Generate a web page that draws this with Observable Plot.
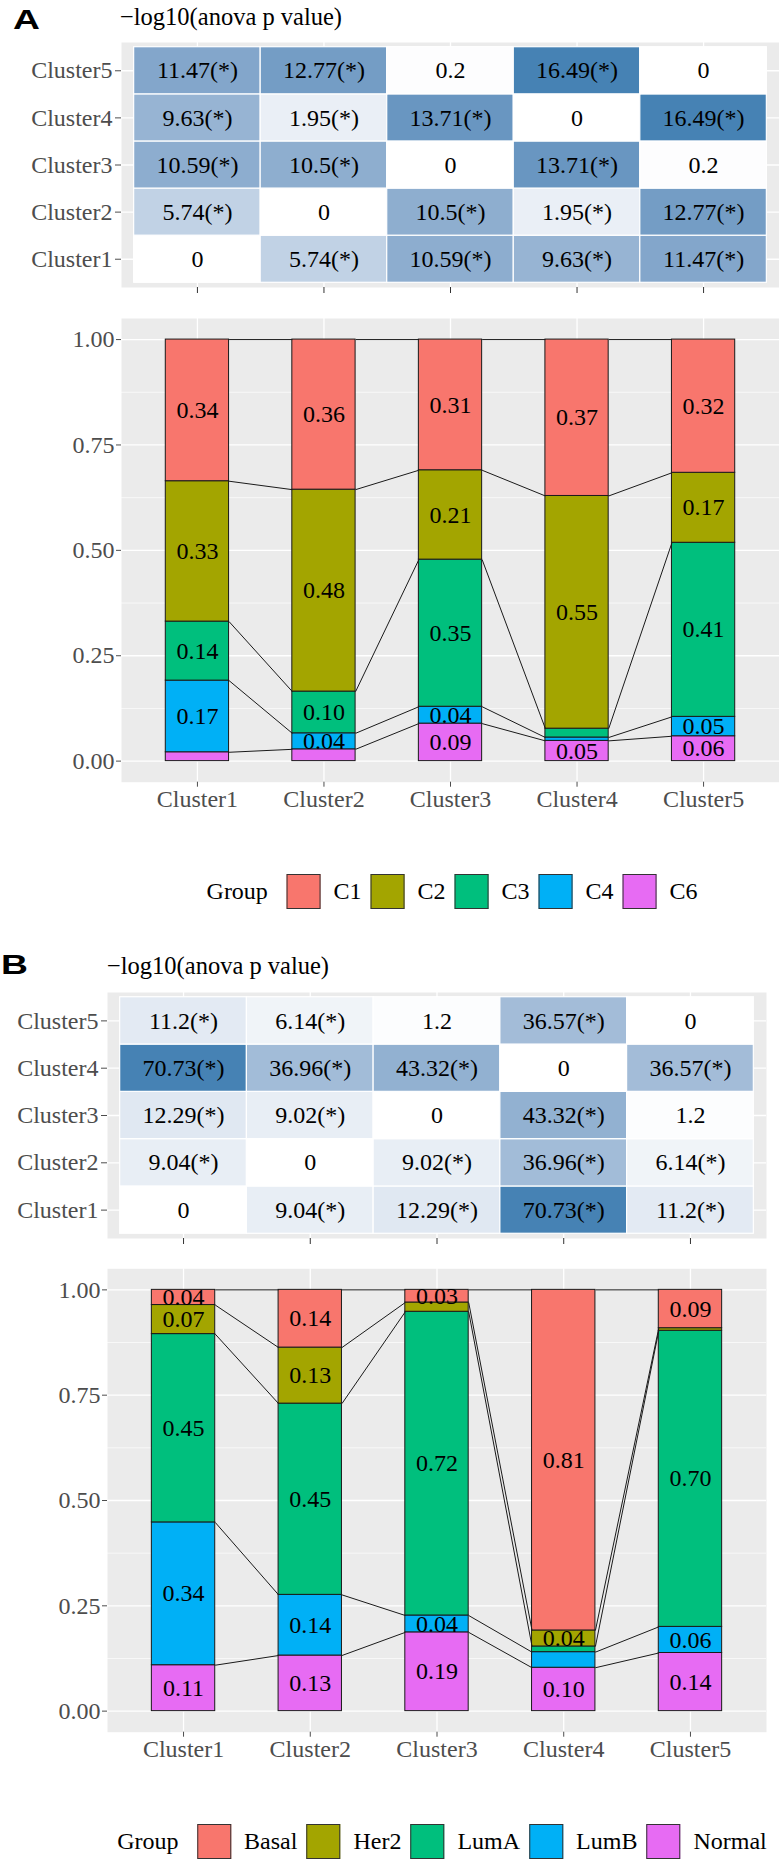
<!DOCTYPE html>
<html>
<head>
<meta charset="utf-8">
<script src="https://cdn.jsdelivr.net/npm/d3@7"></script>
<script src="https://cdn.jsdelivr.net/npm/@observablehq/plot@0.6"></script>
<style>
  html, body { margin: 0; padding: 0; background: #ffffff; }
  #root { position: relative; width: 779px; height: 1864px; overflow: hidden;
          font-family: "Liberation Serif", "Times New Roman", serif; color: #000; }
  .tag { position: absolute; font-family: "Liberation Sans", Arial, sans-serif; font-weight: bold;
         font-size: 28px; line-height: 1; transform-origin: left top; transform: scaleX(1.33); }
  .title { position: absolute; font-size: 24.5px; line-height: 1; white-space: nowrap; }
  .legend { position: absolute; height: 35px; display: flex; align-items: center; font-size: 24px;
            white-space: nowrap; transform: translateX(-50%); }
  .legend .key { display: inline-block; width: 34px; height: 35px; box-sizing: border-box;
                 border: 1.5px solid #333; }
</style>
</head>
<body>
<div id="root"></div>
<script>
// ---------------- data ----------------
const clusters = ["Cluster1", "Cluster2", "Cluster3", "Cluster4", "Cluster5"];

// -log10(anova p value); rows = y cluster (Cluster1..Cluster5), columns = x cluster
const heatA = [
  [0, 5.74, 10.59, 9.63, 11.47],
  [5.74, 0, 10.5, 1.95, 12.77],
  [10.59, 10.5, 0, 13.71, 0.2],
  [9.63, 1.95, 13.71, 0, 16.49],
  [11.47, 12.77, 0.2, 16.49, 0]
];
const heatB = [
  [0, 9.04, 12.29, 70.73, 11.2],
  [9.04, 0, 9.02, 36.96, 6.14],
  [12.29, 9.02, 0, 43.32, 1.2],
  [70.73, 36.96, 43.32, 0, 36.57],
  [11.2, 6.14, 1.2, 36.57, 0]
];

// Panel A proportions per group (across Cluster1..Cluster5)
const groupsA = ["C1", "C2", "C3", "C4", "C6"];
const colorsA = ["#F8766D", "#A3A500", "#00BF7D", "#00B0F6", "#E76BF3"];
const valuesA = [
  [0.336, 0.356, 0.310, 0.371, 0.316],  // C1
  [0.333, 0.479, 0.212, 0.552, 0.166],  // C2
  [0.140, 0.099, 0.349, 0.021, 0.413],  // C3
  [0.170, 0.038, 0.040, 0.008, 0.046],  // C4
  [0.021, 0.028, 0.089, 0.048, 0.059]   // C6
];
const labelsA = [
  ["0.34", "0.36", "0.31", "0.37", "0.32"],
  ["0.33", "0.48", "0.21", "0.55", "0.17"],
  ["0.14", "0.10", "0.35", "", "0.41"],
  ["0.17", "0.04", "0.04", "", "0.05"],
  ["", "", "0.09", "0.05", "0.06"]
];

// Panel B proportions per group
const groupsB = ["Basal", "Her2", "LumA", "LumB", "Normal"];
const colorsB = ["#F8766D", "#A3A500", "#00BF7D", "#00B0F6", "#E76BF3"];
const valuesB = [
  [0.036, 0.137, 0.030, 0.8085, 0.091], // Basal
  [0.069, 0.133, 0.022, 0.038, 0.006],  // Her2
  [0.447, 0.454, 0.721, 0.0135, 0.703], // LumA
  [0.339, 0.144, 0.040, 0.037, 0.062],  // LumB
  [0.109, 0.132, 0.187, 0.103, 0.138]   // Normal
];
const labelsB = [
  ["0.04", "0.14", "0.03", "0.81", "0.09"],
  ["0.07", "0.13", "", "0.04", ""],
  ["0.45", "0.45", "0.72", "", "0.70"],
  ["0.34", "0.14", "0.04", "", "0.06"],
  ["0.11", "0.13", "0.19", "0.10", "0.14"]
];

const yTicks = [0, 0.25, 0.5, 0.75, 1];
const yMinor = [0.125, 0.375, 0.625, 0.875];

// ---------------- helpers ----------------
const FONT = "'Liberation Serif', 'Times New Roman', serif";
const root = document.getElementById("root");
const idx = c => clusters.indexOf(c) + 1;
const pos = clusters.map((c, i) => i + 1);

function place(el, top, left) {
  el.style.position = "absolute";
  el.style.top = top + "px";
  el.style.left = (left || 0) + "px";
  root.appendChild(el);
}

function heatmap(matrix, o) {
  const cells = [];
  matrix.forEach((row, yi) => row.forEach((v, xi) => cells.push({xc: clusters[xi], yc: clusters[yi], v})));
  const max = d3.max(cells, d => d.v);
  const sig = -Math.log10(0.05);
  const label = v => v > sig ? `${v}(*)` : `${v}`;
  return Plot.plot({
    width: 779, height: o.height,
    marginTop: o.mt, marginBottom: o.mb, marginLeft: o.ml, marginRight: o.mr,
    style: {fontFamily: FONT, fontSize: "24px", background: "transparent", overflow: "visible"},
    x: {domain: [0.4, 5.6], axis: null},
    y: {domain: [0.4, 5.6], axis: null},
    color: {type: "linear", domain: [0, max], range: ["#ffffff", "#4682B4"], interpolate: d3.interpolateLab},
    marks: [
      Plot.frame({fill: "#EBEBEB", stroke: "none"}),
      Plot.gridX(pos, {stroke: "#ffffff", strokeOpacity: 1, strokeWidth: 1.3}),
      Plot.gridY(pos, {stroke: "#ffffff", strokeOpacity: 1, strokeWidth: 1.3}),
      Plot.rect(cells, {
        x1: d => idx(d.xc) - 0.5, x2: d => idx(d.xc) + 0.5,
        y1: d => idx(d.yc) - 0.5, y2: d => idx(d.yc) + 0.5,
        fill: "v", stroke: "#ffffff", strokeWidth: 1.2
      }),
      Plot.text(cells, {x: d => idx(d.xc), y: d => idx(d.yc), text: d => label(d.v), fill: "#000", fontSize: 24}),
      Plot.axisY({ticks: pos, tickFormat: i => clusters[i - 1], tickSize: 6, tickPadding: 3,
                  color: "#4D4D4D", fontSize: 24, label: null}),
      Plot.axisX({ticks: pos, tickFormat: () => "", tickSize: 6, color: "#333333", label: null})
    ]
  });
}

function bars(groups, colors, values, labels, o) {
  const segs = [];
  const tops = groups.map(() => []);
  clusters.forEach((c, ci) => {
    const total = d3.sum(values, v => v[ci]);
    let acc = 0;
    for (let gi = groups.length - 1; gi >= 0; gi--) {
      const f = values[gi][ci] / total;
      segs.push({cluster: c, group: groups[gi], y1: acc, y2: acc + f, label: labels[gi][ci]});
      acc += f;
      tops[gi][ci] = acc;
    }
  });
  const links = [];
  groups.forEach((g, gi) => {
    for (let ci = 0; ci < clusters.length - 1; ci++) {
      links.push({from: clusters[ci], to: clusters[ci + 1], y1: tops[gi][ci], y2: tops[gi][ci + 1]});
    }
  });
  return Plot.plot({
    width: 779, height: o.height,
    marginTop: o.mt, marginBottom: o.mb, marginLeft: o.ml, marginRight: o.mr,
    style: {fontFamily: FONT, fontSize: "24px", background: "transparent", overflow: "visible"},
    x: {domain: [0.4, 5.6], axis: null},
    y: {domain: [-0.05, 1.05], axis: null},
    color: {type: "ordinal", domain: groups, range: colors},
    marks: [
      Plot.frame({fill: "#EBEBEB", stroke: "none"}),
      Plot.gridY(yMinor, {stroke: "#ffffff", strokeOpacity: 1, strokeWidth: 0.65}),
      Plot.gridY(yTicks, {stroke: "#ffffff", strokeOpacity: 1, strokeWidth: 1.3}),
      Plot.gridX(pos, {stroke: "#ffffff", strokeOpacity: 1, strokeWidth: 1.3}),
      Plot.rect(segs, {
        x1: d => idx(d.cluster) - 0.25, x2: d => idx(d.cluster) + 0.25,
        y1: "y1", y2: "y2", fill: "group", stroke: "#1a1a1a", strokeWidth: 1
      }),
      Plot.link(links, {
        x1: d => idx(d.from) + 0.25, x2: d => idx(d.to) - 0.25,
        y1: "y1", y2: "y2", stroke: "#1a1a1a", strokeWidth: 1
      }),
      Plot.text(segs, {x: d => idx(d.cluster), y: d => (d.y1 + d.y2) / 2, text: "label", fill: "#000", fontSize: 24}),
      Plot.axisY({ticks: yTicks, tickFormat: d3.format(".2f"), tickSize: 5, tickPadding: 2,
                  color: "#4D4D4D", fontSize: 24, label: null}),
      Plot.axisX({ticks: pos, tickFormat: i => clusters[i - 1], tickSize: 5, tickPadding: 3,
                  color: "#4D4D4D", fontSize: 24, label: null})
    ]
  });
}

function tag(text, top, left) {
  const d = document.createElement("div");
  d.className = "tag";
  d.textContent = text;
  place(d, top, left);
}

function title(text, top, left) {
  const d = document.createElement("div");
  d.className = "title";
  d.textContent = text;
  place(d, top, left);
}

function legend(groups, colors, top, centerX) {
  const d = document.createElement("div");
  d.className = "legend";
  const t = document.createElement("span");
  t.textContent = "Group";
  t.style.marginRight = "18.5px";
  d.appendChild(t);
  groups.forEach((g, i) => {
    const k = document.createElement("span");
    k.className = "key";
    k.style.background = colors[i];
    const l = document.createElement("span");
    l.textContent = g;
    l.style.marginLeft = "13px";
    if (i < groups.length - 1) l.style.marginRight = "9px";
    d.appendChild(k);
    d.appendChild(l);
  });
  place(d, top, centerX);
}

// ---------------- panel A ----------------
tag("A", 6, 13);
title("\u2212log10(anova p value)", 5, 120);
place(heatmap(heatA, {height: 265, mt: 7, mb: 13, ml: 121, mr: 0}), 35, 0);
place(bars(groupsA, colorsA, valuesA, labelsA, {height: 530, mt: 18, mb: 48.3, ml: 121, mr: 0}), 300, 0);
legend(groupsA, colorsA, 874, 452);

// ---------------- panel B ----------------
tag("B", 951, 1);
title("\u2212log10(anova p value)", 954, 107);
place(heatmap(heatB, {height: 265, mt: 7, mb: 12, ml: 107, mr: 13}), 985, 0);
place(bars(groupsB, colorsB, valuesB, labelsB, {height: 530, mt: 18.3, mb: 48.3, ml: 107, mr: 13}), 1250, 0);
legend(groupsB, colorsB, 1824, 442);
</script>
</body>
</html>
